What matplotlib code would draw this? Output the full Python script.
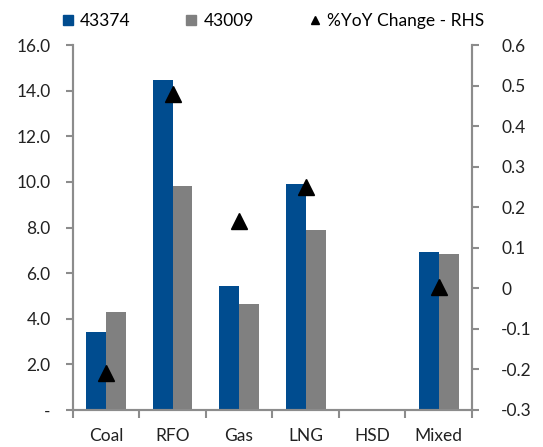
import numpy as np
import matplotlib.pyplot as plt
from matplotlib.lines import Line2D

plt.rcParams['font.family'] = ['Lato', 'DejaVu Sans']

#data
categories = ["Coal", "RFO", "Gas", "LNG", "HSD", "Mixed"]
vals_43374 = [3.42, 14.45, 5.44, 9.90, 0.0, 6.93]
vals_43009 = [4.30, 9.82, 4.65, 7.88, 0.0, 6.84]
yoy_change = [-0.21, 0.48, 0.166, 0.25, np.nan, 0.003]

blue = "#004c8f"
gray = "#808080"
spine_col = "#8c8c8c"

fig = plt.figure(figsize=(5.43, 4.47), dpi=100)
ax = fig.add_axes([0.134, 0.083, 0.735, 0.816])
ax2 = ax.twinx()

x = np.arange(len(categories))
w = 0.3
ax.bar(x - w/2, vals_43374, width=w, color=blue, zorder=2)
ax.bar(x + w/2, vals_43009, width=w, color=gray, zorder=2)
ax2.plot(x, yoy_change, linestyle="none", marker="^", markersize=11.5, color="black")

ax.set_xlim(-0.5, len(categories) - 0.5)
ax.set_ylim(0, 16)
ax.set_yticks(np.arange(0, 16.1, 2))
ax.set_yticklabels(["-"] + ["%.1f" % v for v in np.arange(2, 16.1, 2)])
ax2.set_ylim(-0.3, 0.6)
r_ticks = np.round(np.arange(-0.3, 0.61, 0.1), 1)
ax2.set_yticks(r_ticks)
ax2.set_yticklabels(["0" if v == 0 else "%g" % v for v in r_ticks])

# category ticks on the boundaries, labels in the middle
ax.set_xticks(np.arange(-0.5, len(categories)), minor=False)
ax.set_xticklabels([""] * (len(categories) + 1))
ax.set_xticks(x, minor=True)
ax.set_xticklabels(categories, minor=True)
ax.tick_params(axis="x", which="minor", length=0, pad=13, labelsize=12.5, colors="#222222")
ax.tick_params(axis="x", which="major", length=6, width=1.5, color=spine_col, direction="out")

for a in (ax, ax2):
    a.spines["top"].set_visible(False)
    for s in ("left", "right", "bottom"):
        a.spines[s].set_color(spine_col)
        a.spines[s].set_linewidth(1.5)
ax.tick_params(axis="y", length=5, width=1.5, color=spine_col, pad=11, labelsize=12.5, labelcolor="#222222")
ax2.tick_params(axis="y", length=5, width=1.5, color=spine_col, pad=16, labelsize=12.5, labelcolor="#222222")

handles = [
    Line2D([], [], linestyle="none", marker="s", markersize=7, color=blue),
    Line2D([], [], linestyle="none", marker="s", markersize=7, color=gray),
    Line2D([], [], linestyle="none", marker="^", markersize=6, color="black"),
]
fig.legend(handles, ["43374", "43009", "%YoY Change - RHS"], loc="upper center",
           bbox_to_anchor=(0.5, 1.005), ncol=3, frameon=False, fontsize=12.5,
           handletextpad=0.2, columnspacing=3.0, handlelength=1.0)

plt.savefig("out.png", dpi=100)
